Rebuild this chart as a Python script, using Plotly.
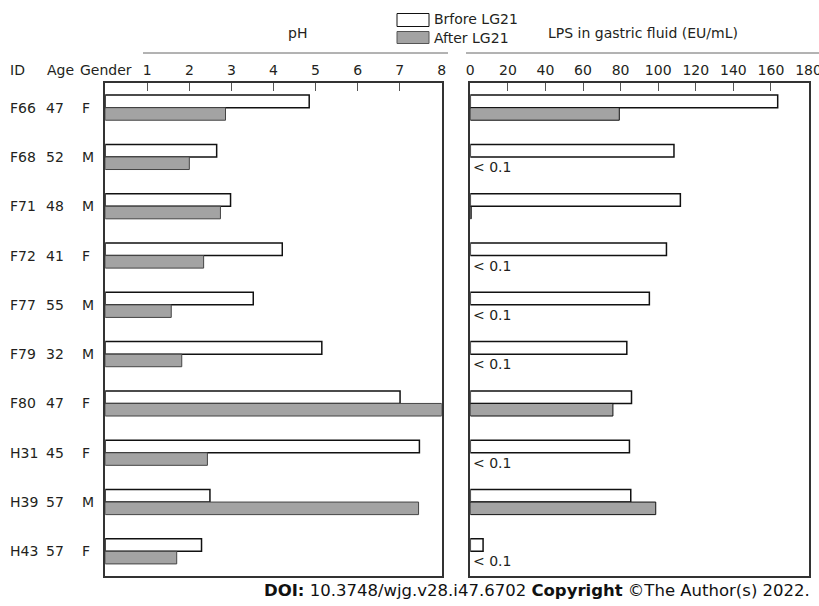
import plotly.graph_objects as go

# ---- data ----
ids = ["F66", "F68", "F71", "F72", "F77", "F79", "F80", "H31", "H39", "H43"]
ages = ["47", "52", "48", "41", "55", "32", "47", "45", "57", "57"]
genders = ["F", "M", "M", "F", "M", "M", "F", "F", "M", "F"]

ph_before = [4.85, 2.65, 2.98, 4.21, 3.52, 5.15, 7.01, 7.47, 2.49, 2.29]
ph_after = [2.86, 2.00, 2.74, 2.34, 1.57, 1.82, 8.00, 2.43, 7.45, 1.70]

lps_before = [163.6, 108.4, 111.8, 104.4, 95.3, 83.3, 85.8, 84.7, 85.4, 6.8]
lps_after = [79.3, None, 0.5, None, None, None, 75.9, None, 98.7, None]
lps_after_label = ["", "< 0.1", "", "< 0.1", "< 0.1", "< 0.1", "", "< 0.1", "", "< 0.1"]

ph_ticks = [1, 2, 3, 4, 5, 6, 7, 8]
lps_ticks = [0, 20, 40, 60, 80, 100, 120, 140, 160, 180]

series_names = ["Brfore LG21", "After LG21"]

# ---- style ----
W, H = 819, 606
FONT = "DejaVu Sans"
TXT = "#231f20"
LINE = "#333333"
GRAY = "#a3a3a3"


def px(x):
    return x / W


def py(y):
    return 1 - y / H


fig = go.Figure()

bar_common = dict(orientation="h", showlegend=False)
fig.add_trace(go.Bar(y=ids, x=ph_before, name=series_names[0], xaxis="x", yaxis="y",
                     marker=dict(color="white", line=dict(color="#111111", width=1.5)), **bar_common))
fig.add_trace(go.Bar(y=ids, x=ph_after, name=series_names[1], xaxis="x", yaxis="y",
                     marker=dict(color=GRAY, line=dict(color="#444444", width=1)), **bar_common))
fig.add_trace(go.Bar(y=ids, x=lps_before, name=series_names[0], xaxis="x2", yaxis="y2",
                     marker=dict(color="white", line=dict(color="#111111", width=1.5)), **bar_common))
fig.add_trace(go.Bar(y=ids, x=lps_after, name=series_names[1], xaxis="x2", yaxis="y2",
                     marker=dict(color=GRAY, line=dict(color="#111111", width=1)), **bar_common))

ydom = [py(576), py(83)]
xaxis_common = dict(side="top", ticks="inside", ticklen=8, tickcolor="#555555", tickwidth=1,
                    showline=True, mirror=True, linecolor=LINE, linewidth=1.5, automargin=False,
                    showgrid=False, zeroline=False, tickfont=dict(family=FONT, size=14, color=TXT),
                    ticklabelstandoff=1, ticklabeloverflow="allow")
yaxis_common = dict(showline=True, mirror=True, linecolor=LINE, linewidth=1.5, automargin=False,
                    showticklabels=False, ticks="", showgrid=False, zeroline=False,
                    range=[9.5, -0.5], type="category", domain=ydom)

fig.update_layout(
    width=W, height=H,
    margin=dict(l=0, r=0, t=0, b=0, pad=0, autoexpand=False),
    paper_bgcolor="white", plot_bgcolor="white",
    barmode="group", bargap=0.49, bargroupgap=0,
    font=dict(family=FONT, size=14, color=TXT),
    xaxis=dict(domain=[px(105.2), px(441.7)], range=[0, 8], tickvals=ph_ticks, anchor="y", **xaxis_common),
    yaxis=dict(anchor="x", **yaxis_common),
    xaxis2=dict(domain=[px(470.3), px(808.5)], range=[0, 180], tickvals=lps_ticks, anchor="y2", **xaxis_common),
    yaxis2=dict(anchor="x2", **yaxis_common),
)

ann = []
# column headers
for text, x in [("ID", 8), ("Age", 45), ("Gender", 78)]:
    ann.append(dict(text=text, x=px(x), y=py(70), xref="paper", yref="paper",
                    xanchor="left", yanchor="middle", showarrow=False,
                    font=dict(family=FONT, size=14, color=TXT)))
# row labels
for i, rid in enumerate(ids):
    for text, x in [(rid, 8), (ages[i], 44), (genders[i], 80)]:
        ann.append(dict(text=text, x=px(x), y=rid, xref="paper", yref="y",
                        xanchor="left", yanchor="middle", showarrow=False,
                        font=dict(family=FONT, size=14, color=TXT)))
# < 0.1 labels
for i, rid in enumerate(ids):
    if lps_after_label[i]:
        ann.append(dict(text=lps_after_label[i], x=0, y=rid, xref="x2", yref="y2",
                        xanchor="left", yanchor="middle", xshift=1, yshift=-10, showarrow=False,
                        font=dict(family=FONT, size=14, color=TXT)))
# panel titles
ann.append(dict(text="pH", x=px(297), y=py(33), xref="paper", yref="paper", showarrow=False,
                xanchor="center", yanchor="middle", font=dict(family=FONT, size=14, color=TXT)))
ann.append(dict(text="LPS in gastric fluid (EU/mL)", x=px(643), y=py(33), xref="paper", yref="paper",
                showarrow=False, xanchor="center", yanchor="middle", font=dict(family=FONT, size=14, color=TXT)))
# legend text
ann.append(dict(text=series_names[0], x=px(432), y=py(19), xref="paper", yref="paper", showarrow=False,
                xanchor="left", yanchor="middle", font=dict(family=FONT, size=14, color=TXT)))
ann.append(dict(text=series_names[1], x=px(432), y=py(38), xref="paper", yref="paper", showarrow=False,
                xanchor="left", yanchor="middle", font=dict(family=FONT, size=14, color=TXT)))
# DOI
ann.append(dict(text="<b>DOI:</b> 10.3748/wjg.v28.i47.6702 <b>Copyright</b> ©The Author(s) 2022.",
                x=px(812), y=py(590), xref="paper", yref="paper", showarrow=False,
                xanchor="right", yanchor="middle", font=dict(family=FONT, size=16.5, color="#111111")))

shapes = [
    # lines above tick labels
    dict(type="line", xref="paper", yref="paper", x0=px(143), x1=px(448), y0=py(53), y1=py(53),
         line=dict(color="#666666", width=1)),
    dict(type="line", xref="paper", yref="paper", x0=px(466), x1=1, y0=py(53), y1=py(53),
         line=dict(color="#666666", width=1)),
    # legend swatches
    dict(type="rect", xref="paper", yref="paper", x0=px(397), x1=px(429), y0=py(26.5), y1=py(13.5),
         fillcolor="white", line=dict(color="#111111", width=1)),
    dict(type="rect", xref="paper", yref="paper", x0=px(397), x1=px(429), y0=py(43.5), y1=py(31.5),
         fillcolor=GRAY, line=dict(color="#555555", width=1)),
]

fig.update_layout(annotations=ann, shapes=shapes)
fig.write_html("out.html", config={"displayModeBar": False},
               post_script="document.body.style.margin='0';")
